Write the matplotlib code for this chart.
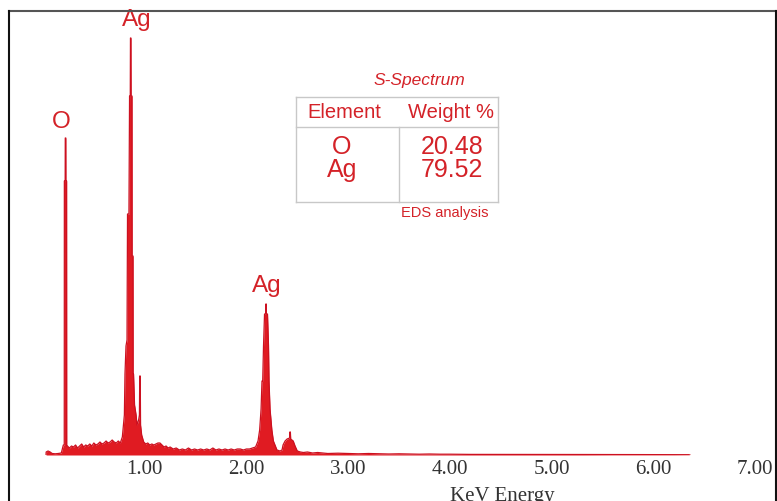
import matplotlib
matplotlib.use("Agg")
import matplotlib.pyplot as plt
from matplotlib.lines import Line2D

# spectrum (energy in keV, counts in arbitrary units)
energy = [0.03, 0.031, 0.05, 0.07, 0.09, 0.12, 0.15, 0.18, 0.19, 0.20, 0.209,
          0.210, 0.218, 0.219, 0.224, 0.225, 0.232, 0.233,
          0.24, 0.26, 0.28, 0.30, 0.32, 0.34, 0.36, 0.38, 0.40, 0.42, 0.44,
          0.46, 0.48, 0.50, 0.52, 0.54, 0.56, 0.58, 0.60, 0.62, 0.64, 0.66,
          0.68, 0.70, 0.72, 0.74, 0.76, 0.78,
          0.787, 0.800, 0.806, 0.816, 0.826, 0.831, 0.845, 0.851, 0.858,
          0.860, 0.864, 0.866, 0.875, 0.876, 0.885, 0.886, 0.890, 0.900,
          0.915, 0.924, 0.940, 0.948, 0.951, 0.956, 0.959, 0.97, 0.99,
          1.01, 1.03, 1.05, 1.07, 1.09, 1.11, 1.13, 1.15, 1.17, 1.19, 1.21,
          1.23, 1.25, 1.28, 1.31, 1.34, 1.37, 1.40, 1.43, 1.46, 1.49, 1.52,
          1.55, 1.58, 1.61, 1.64, 1.67, 1.70, 1.73, 1.76, 1.79, 1.82, 1.85,
          1.88, 1.91, 1.94, 1.97, 2.00, 2.03, 2.06, 2.09,
          2.114, 2.130, 2.144, 2.153, 2.160, 2.168, 2.178, 2.190, 2.191,
          2.195, 2.196, 2.207, 2.217, 2.222, 2.232, 2.25, 2.265, 2.281,
          2.30, 2.33, 2.35, 2.36, 2.38, 2.40, 2.425, 2.427, 2.432, 2.435,
          2.46, 2.478, 2.50, 2.53, 2.56, 2.60, 2.65, 2.70, 2.75, 2.80, 2.90,
          3.00, 3.10, 3.20, 3.30, 3.40, 3.50, 3.60, 3.70, 3.80, 3.90, 4.00,
          4.20, 4.40, 4.60, 4.80, 5.00, 5.30, 5.60, 5.90, 6.20, 6.35, 6.36]
counts = [0, 30, 40, 30, 15, 12, 15, 20, 60, 100, 100,
          2740, 2740, 3170, 3170, 2740, 2740, 90,
          90, 70, 90, 80, 100, 70, 90, 110, 80, 100, 90,
          110, 90, 120, 100, 110, 130, 110, 120, 140, 120, 130,
          150, 130, 120, 140, 120, 180,
          260, 400, 810, 1090, 1150, 2410, 2410, 3590, 3590,
          4170, 4170, 3590, 3590, 1990, 1990, 810, 810, 500,
          400, 300, 350, 400, 790, 790, 300, 200, 130,
          110, 120, 100, 110, 100, 110, 120, 120, 100, 80, 90,
          70, 80, 60, 70, 50, 60, 50, 70, 50, 60, 50,
          60, 50, 60, 50, 70, 50, 60, 50, 60, 50, 60,
          50, 60, 60, 50, 60, 60, 70, 80,
          140, 250, 460, 740, 740, 1090, 1410, 1410, 1510,
          1510, 1410, 1410, 1090, 740, 460, 250, 140, 100,
          50, 40, 50, 100, 140, 160, 170, 230, 230, 160,
          140, 90, 40, 30, 25, 30, 20, 25, 20, 15, 18,
          15, 12, 15, 12, 10, 12, 10, 8, 10, 8, 8,
          6, 6, 5, 5, 5, 5, 4, 4, 4, 3, 0]

tick_values = [1, 2, 3, 4, 5, 6, 7]
peak_labels = ["O", "Ag", "Ag"]
peak_energy = [0.18, 0.924, 2.20]
peak_label_y = [3340, 4360, 1700]

elements = ["O", "Ag"]
weights = ["20.48", "79.52"]

W, H = 777, 502
RED = "#e01b22"
TEXT_RED = "#d42228"

fig = plt.figure(figsize=(W / 100, H / 100), dpi=100)
fig.patch.set_facecolor("white")


def fx(x):
    return x / W


def fy(y):
    return 1 - y / H


# axes: x 0 -> px 43, 7 -> px 755 ; baseline at px 456, top at px 12
ax = fig.add_axes([fx(43), fy(456), fx(755) - fx(43), fy(12) - fy(456)])
ax.set_xlim(0, 7)
ax.set_ylim(0, 4440)
ax.fill_between(energy, counts, 0, color=RED, linewidth=0)
ax.plot(energy, counts, color="#cc1020", linewidth=0.9)

for name, e, yy in zip(peak_labels, peak_energy, peak_label_y):
    ax.text(e, yy, name, color=TEXT_RED, fontsize=17.5, ha="center", va="center",
            family="Liberation Sans")

for s in ax.spines.values():
    s.set_visible(False)
ax.set_yticks([])
ax.set_xticks(tick_values)
ax.set_xticklabels([f"{v:.2f}" for v in tick_values], family="Liberation Serif",
                   fontsize=15, color="#333333")
ax.tick_params(axis="x", length=0, pad=3)
ax.set_facecolor("none")

fig.text(fx(502), fy(487), "KeV Energy", family="Liberation Serif", fontsize=15,
         color="#333333", ha="center", va="top")

# outer frame
fig.add_artist(Line2D([fx(9), fx(776)], [fy(12), fy(12)], color="#555555", lw=1.5))
fig.add_artist(Line2D([fx(9), fx(9)], [fy(12), 0], color="#111111", lw=1.5))
fig.add_artist(Line2D([fx(776), fx(776)], [fy(12), 0], color="#111111", lw=1.5))

# inset table
grey = "#c8c8c8"
x0, x1, xm = 296, 498, 399
y0, yh, y1 = 98, 128, 203
for xs, ys in [([x0, x1], [y0, y0]), ([x0, x1], [yh, yh]), ([x0, x1], [y1, y1]),
               ([x0, x0], [y0, y1]), ([x1, x1], [y0, y1]), ([xm, xm], [yh, y1])]:
    fig.add_artist(Line2D([fx(v) for v in xs], [fy(v) for v in ys], color=grey, lw=1))

sans = "Liberation Sans"
fig.text(fx(419), fy(81), "S-Spectrum", family=sans, style="italic", fontsize=12.5,
         color=TEXT_RED, ha="center", va="center")
fig.text(fx(344), fy(113), "Element", family=sans, fontsize=14.5, color=TEXT_RED,
         ha="center", va="center")
fig.text(fx(451), fy(113), "Weight %", family=sans, fontsize=14.5, color=TEXT_RED,
         ha="center", va="center")
for i, (el, wt) in enumerate(zip(elements, weights)):
    yy = 147 + 23 * i
    fig.text(fx(342), fy(yy), el, family=sans, fontsize=18, color=TEXT_RED,
             ha="center", va="center")
    fig.text(fx(452), fy(yy), wt, family=sans, fontsize=18, color=TEXT_RED,
             ha="center", va="center")
fig.text(fx(445), fy(213), "EDS analysis", family=sans, fontsize=10.5,
         color=TEXT_RED, ha="center", va="center")

fig.savefig("out.png", dpi=100)
